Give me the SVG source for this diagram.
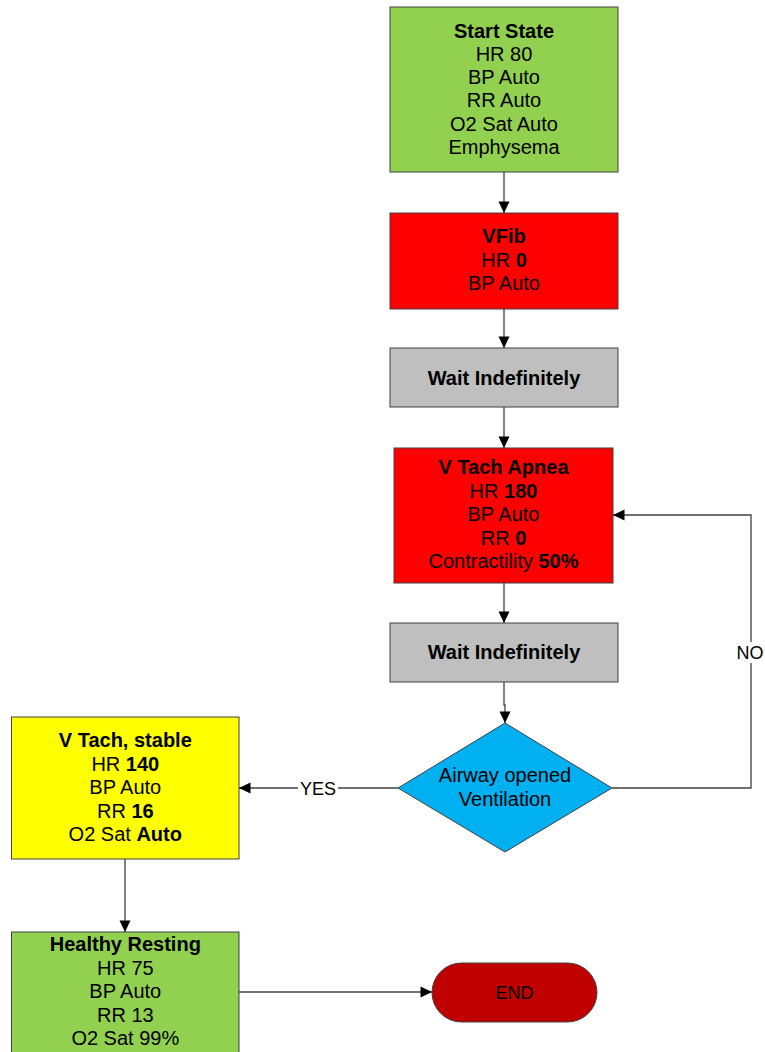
<svg xmlns="http://www.w3.org/2000/svg" width="765" height="1052" viewBox="0 0 765 1052">
<style>
text{font-family:"Liberation Sans",Arial,sans-serif;font-size:20px;fill:#000;text-anchor:middle}
.b{font-weight:bold}
.lbl{font-size:18px}
.box{stroke:#404040;stroke-width:1}
.con{fill:none;stroke:#404040;stroke-width:1.3}
</style>
<defs>
<marker id="arr" viewBox="0 0 12 12" markerWidth="12" markerHeight="12" refX="12" refY="6" orient="auto" markerUnits="userSpaceOnUse">
<path d="M0.5,0.5 L12,6 L0.5,11.5 z" fill="#000"/>
</marker>
</defs>
<rect width="765" height="1052" fill="#fff"/>
<g id="connectors">
<path class="con" d="M504,172 V213" marker-end="url(#arr)"/>
<path class="con" d="M504,309 V348" marker-end="url(#arr)"/>
<path class="con" d="M504,407 V448" marker-end="url(#arr)"/>
<path class="con" d="M504,583 V623" marker-end="url(#arr)"/>
<path class="con" d="M504,682 V705 H505 V723" marker-end="url(#arr)"/>
<path class="con" d="M398,788 H239" marker-end="url(#arr)"/>
<path class="con" d="M612,788 H751 V515 H613" marker-end="url(#arr)"/>
<path class="con" d="M125,859 V932" marker-end="url(#arr)"/>
<path class="con" d="M239,992 H432" marker-end="url(#arr)"/>
<rect x="298" y="778" width="40" height="20" fill="#fff"/>
<text class="lbl" x="318" y="794.5">YES</text>
<rect x="737" y="642" width="28" height="21" fill="#fff"/>
<text class="lbl" x="750" y="658.5">NO</text>
</g>
<g id="start">
<rect class="box" x="390" y="7" width="228" height="165" fill="#92d050"/>
<text x="504" y="37.5" class="b">Start State</text>
<text x="504" y="60.8">HR 80</text>
<text x="504" y="84.1">BP Auto</text>
<text x="504" y="107.4">RR Auto</text>
<text x="504" y="130.7">O2 Sat Auto</text>
<text x="504" y="154">Emphysema</text>
</g>
<g id="vfib">
<rect class="box" x="390" y="213" width="228" height="96" fill="#ff0000"/>
<text x="504" y="243" class="b">VFib</text>
<text x="504" y="266.5">HR <tspan class="b">0</tspan></text>
<text x="504" y="290">BP Auto</text>
</g>
<g id="wait1">
<rect class="box" x="390" y="348" width="228" height="59" fill="#bfbfbf"/>
<text x="504" y="385" class="b">Wait Indefinitely</text>
</g>
<g id="vtach-apnea">
<rect class="box" x="394" y="448" width="219" height="135" fill="#ff0000"/>
<text x="503.5" y="474" class="b">V Tach Apnea</text>
<text x="503.5" y="497.5">HR <tspan class="b">180</tspan></text>
<text x="503.5" y="521">BP Auto</text>
<text x="503.5" y="544.5">RR <tspan class="b">0</tspan></text>
<text x="503.5" y="568">Contractility <tspan class="b">50%</tspan></text>
</g>
<g id="wait2">
<rect class="box" x="390" y="623" width="228" height="59" fill="#bfbfbf"/>
<text x="504" y="659" class="b">Wait Indefinitely</text>
</g>
<g id="decision">
<path class="box" d="M505,723 L612,788 L505,852 L398,788 Z" fill="#00b0f0"/>
<text x="505" y="782">Airway opened</text>
<text x="505" y="806">Ventilation</text>
</g>
<g id="vtach-stable">
<rect class="box" x="11.5" y="717" width="227.5" height="142" fill="#ffff00"/>
<text x="125.3" y="747" class="b">V Tach, stable</text>
<text x="125.3" y="770.5">HR <tspan class="b">140</tspan></text>
<text x="125.3" y="794">BP Auto</text>
<text x="125.3" y="817.5">RR <tspan class="b">16</tspan></text>
<text x="125.3" y="841">O2 Sat <tspan class="b">Auto</tspan></text>
</g>
<g id="healthy">
<rect class="box" x="11.5" y="932" width="227.5" height="130" fill="#92d050"/>
<text x="125.3" y="951" class="b">Healthy Resting</text>
<text x="125.3" y="974.5">HR 75</text>
<text x="125.3" y="998">BP Auto</text>
<text x="125.3" y="1021.5">RR 13</text>
<text x="125.3" y="1045">O2 Sat 99%</text>
</g>
<g id="end">
<rect class="box" x="432" y="963" width="165" height="59" rx="29.5" fill="#c00000"/>
<text class="lbl" x="514.5" y="998.5">END</text>
</g>
</svg>
